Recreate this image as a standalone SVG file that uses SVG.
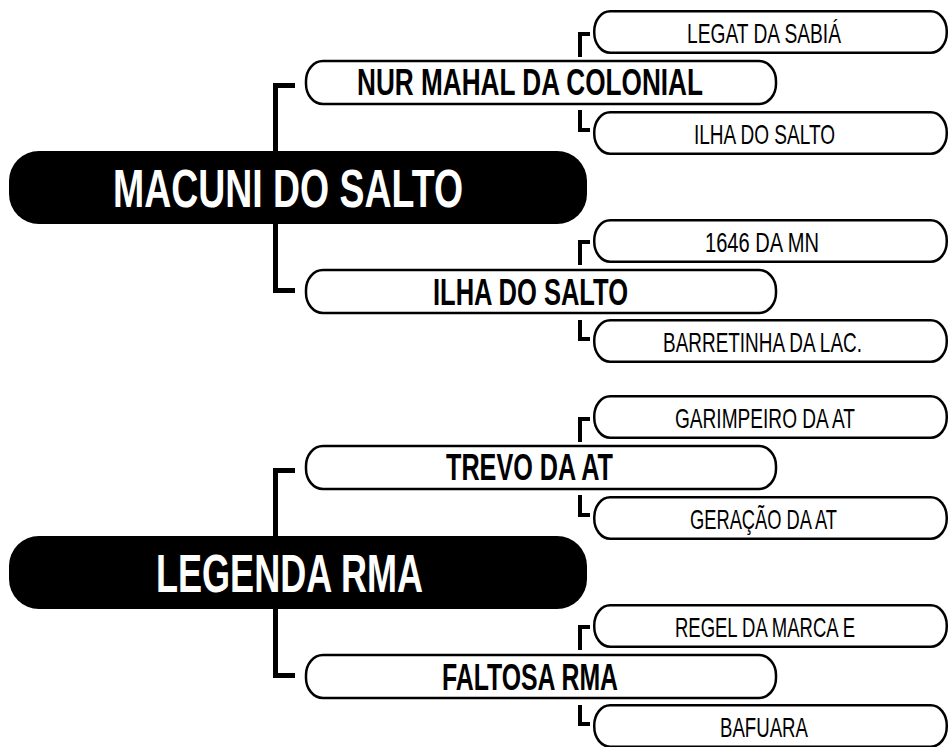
<svg xmlns="http://www.w3.org/2000/svg" width="949" height="747" viewBox="0 0 949 747">
<style>
text{font-family:"Liberation Sans Narrow","Liberation Sans",Arial,sans-serif;}
.root rect{fill:#000;}
.root text{fill:#fff;font-weight:bold;font-size:53px;}
.g2 rect{fill:#fff;stroke:#000;stroke-width:2.5;}
.g2 text{fill:#000;font-weight:bold;font-size:37px;}
.g3 rect{fill:#fff;stroke:#000;stroke-width:2.5;}
.g3 text{fill:#000;font-weight:normal;font-size:28px;}
.main{fill:none;stroke:#000;stroke-width:5;stroke-linejoin:miter;}
.sub{fill:none;stroke:#000;stroke-width:4;stroke-linejoin:miter;}
</style>
<rect width="949" height="747" fill="#fff"/>
<g id="connectors">
<path class="main" d="M275.5,152 V85.5 H295"/>
<path class="main" d="M275.5,223 V290.5 H295"/>
<path class="main" d="M275.5,537 V470.5 H295"/>
<path class="main" d="M275.5,608 V675.5 H295"/>
<path class="sub" d="M580,57 V34 H590"/>
<path class="sub" d="M580,110 V130 H590"/>
<path class="sub" d="M580,265 V242 H590"/>
<path class="sub" d="M580,320 V339 H590"/>
<path class="sub" d="M580,442 V419 H590"/>
<path class="sub" d="M580,495 V515 H590"/>
<path class="sub" d="M580,650 V627 H590"/>
<path class="sub" d="M580,705 V724 H590"/>
</g>
<g id="root1" class="root"><rect x="9" y="151" width="578" height="73" rx="30" ry="30"/><text x="113" y="207" textLength="350" lengthAdjust="spacingAndGlyphs">MACUNI DO SALTO</text></g>
<g id="root2" class="root"><rect x="9" y="536" width="578" height="73" rx="30" ry="30"/><text x="156" y="592" textLength="267" lengthAdjust="spacingAndGlyphs">LEGENDA RMA</text></g>
<g id="nur" class="g2"><rect x="306" y="61" width="470" height="43" rx="17" ry="20"/><text x="357" y="95" textLength="346" lengthAdjust="spacingAndGlyphs">NUR MAHAL DA COLONIAL</text></g>
<g id="ilha2" class="g2"><rect x="306" y="270" width="470" height="43" rx="17" ry="20"/><text x="433" y="305" textLength="195" lengthAdjust="spacingAndGlyphs">ILHA DO SALTO</text></g>
<g id="trevo" class="g2"><rect x="306" y="446" width="470" height="43" rx="17" ry="20"/><text x="446" y="480" textLength="167" lengthAdjust="spacingAndGlyphs">TREVO DA AT</text></g>
<g id="faltosa" class="g2"><rect x="306" y="655" width="470" height="43" rx="17" ry="20"/><text x="442" y="690" textLength="176" lengthAdjust="spacingAndGlyphs">FALTOSA RMA</text></g>
<g id="legat" class="g3"><rect x="594.25" y="11.25" width="352.5" height="41.5" rx="16" ry="20"/><text x="687" y="42.5" textLength="154" lengthAdjust="spacingAndGlyphs">LEGAT DA SABIÁ</text></g>
<g id="ilha3" class="g3"><rect x="594.25" y="112.25" width="352.5" height="41.5" rx="16" ry="20"/><text x="694" y="143.5" textLength="141" lengthAdjust="spacingAndGlyphs">ILHA DO SALTO</text></g>
<g id="n1646" class="g3"><rect x="594.25" y="220.25" width="352.5" height="41.5" rx="16" ry="20"/><text x="705" y="251.5" textLength="114" lengthAdjust="spacingAndGlyphs">1646 DA MN</text></g>
<g id="barretinha" class="g3"><rect x="594.25" y="320.25" width="352.5" height="41.5" rx="16" ry="20"/><text x="663" y="351.5" textLength="199" lengthAdjust="spacingAndGlyphs">BARRETINHA DA LAC.</text></g>
<g id="garimpeiro" class="g3"><rect x="594.25" y="396.25" width="352.5" height="41.5" rx="16" ry="20"/><text x="675" y="427.5" textLength="180" lengthAdjust="spacingAndGlyphs">GARIMPEIRO DA AT</text></g>
<g id="geracao" class="g3"><rect x="594.25" y="497.25" width="352.5" height="41.5" rx="16" ry="20"/><text x="690" y="528.5" textLength="147" lengthAdjust="spacingAndGlyphs">GERAÇÃO DA AT</text></g>
<g id="regel" class="g3"><rect x="594.25" y="605.25" width="352.5" height="41.5" rx="16" ry="20"/><text x="675" y="636.5" textLength="180" lengthAdjust="spacingAndGlyphs">REGEL DA MARCA E</text></g>
<g id="bafuara" class="g3"><rect x="594.25" y="705.25" width="352.5" height="41.5" rx="16" ry="20"/><text x="720" y="736.5" textLength="88" lengthAdjust="spacingAndGlyphs">BAFUARA</text></g>
</svg>
